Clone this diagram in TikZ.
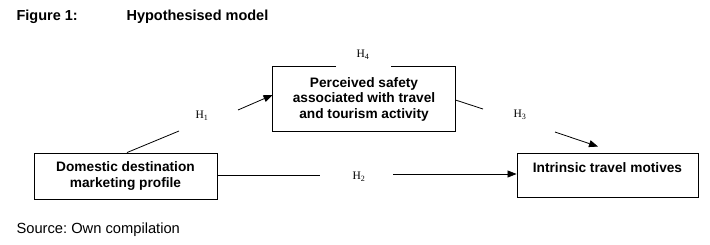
\documentclass[tikz,border=0pt]{standalone}
\usepackage{fontspec}
\setmainfont{Liberation Sans}
\newfontfamily\hypfont{Liberation Serif}
\usetikzlibrary{arrows.meta,calc}
\frenchspacing

\begin{document}
\begin{tikzpicture}[x=1pt,y=-1pt,
                    line/.style={line width=.8pt},
                    arr/.style={line,-{Triangle[length=9pt,width=7pt]}},
                    box/.style={line width=.9pt,align=center,inner sep=0pt,
                                font=\fontsize{13.7}{15.5}\selectfont\bfseries},
                    hyp/.style={inner sep=0pt,font=\fontsize{11.5}{12}\hypfont}]
 \useasboundingbox (0,0) rectangle (710,244);
 % heading and source line
 \node[anchor=base west,font=\fontsize{14.5}{16}\selectfont\bfseries] (fig) at (13,20.7) {Figure 1:};
 \node[anchor=base west,font=\fontsize{14.5}{16}\selectfont\bfseries] (title) at (123,20.7) {Hypothesised model};
 \node[anchor=base west,font=\fontsize{14.7}{16}\selectfont] (source) at (13,233.5) {Source: Own compilation};
 % constructs
 \node[box,minimum width=182pt,minimum height=64pt] (safety) at (364,99)
      {Perceived safety\\associated with travel\\and tourism activity};
 \draw[line width=.9pt] ($(safety.north)+(-28,0)$) -| (safety.south west)
      -| (safety.north east) -- ($(safety.north)+(27,0)$);
 \node[box,draw,minimum width=183pt,minimum height=46pt] (domestic) at (125.5,176)
      {Domestic destination\\marketing profile};
 \node[box,draw,minimum width=181pt,minimum height=44pt] (motives) at (607.5,175)
      {Intrinsic travel motives\\\mbox{}};
 % hypotheses
 \node[hyp] (h4) at (363,55) {H\textsubscript{4}};
 \node[hyp] (h1) at (202,116) {H\textsubscript{1}};
 \node[hyp] (h3) at (520,115) {H\textsubscript{3}};
 \node[hyp] (h2) at (359,177) {H\textsubscript{2}};
 \coordinate (h1a) at (179,131); \coordinate (h1b) at (238,110);
 \coordinate (h3a) at (483,109); \coordinate (h3b) at (555,132);
 \coordinate (h2a) at (320,175); \coordinate (h2b) at (393,174);
 \draw[line] ([xshift=1.5pt]domestic.north) -- (h1a);
 \draw[arr] (h1b) -- ([yshift=4pt]safety.west);
 \draw[line] ([yshift=-1pt]safety.east) -- (h3a);
 \draw[arr] (h3b) -- ([xshift=-9.5pt,yshift=6pt]motives.north);
 \draw[line] ([yshift=1pt]domestic.east) -- (h2a);
 \draw[arr] (h2b) -- ([yshift=1pt]motives.west);
\end{tikzpicture}
\end{document}
